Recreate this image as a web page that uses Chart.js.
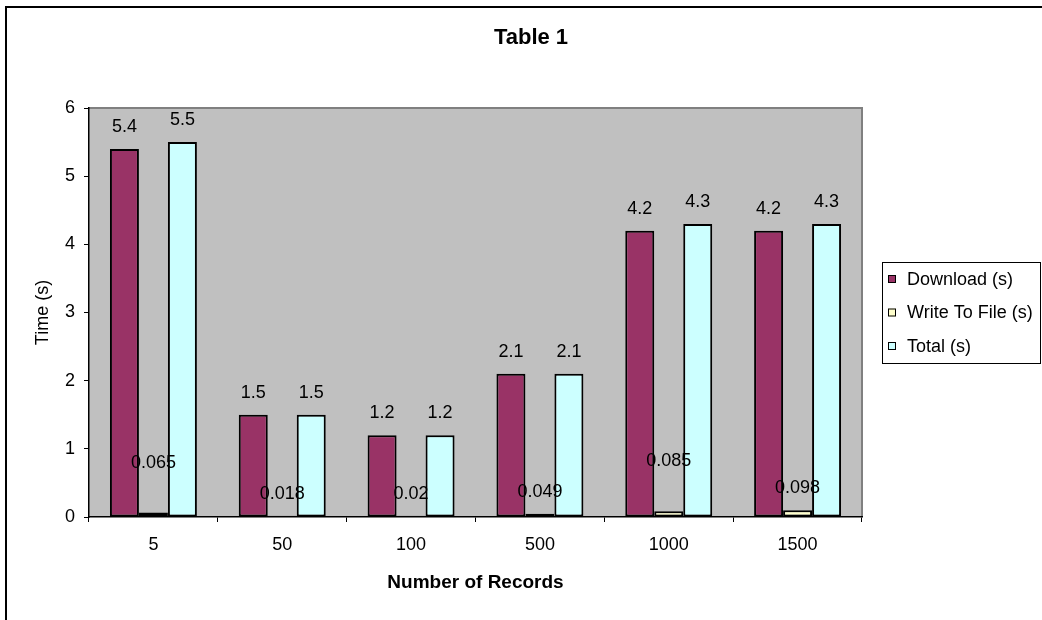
<!DOCTYPE html>
<html>
<head>
<meta charset="utf-8">
<title>Table 1</title>
<script src="https://cdn.jsdelivr.net/npm/chart.js@4/dist/chart.umd.min.js"></script>
<style>
  html, body { margin: 0; padding: 0; background: #ffffff; overflow: hidden; }
  #wrap { position: relative; width: 1042px; height: 620px; }
  canvas { display: block; }
</style>
</head>
<body>
<div id="wrap"><canvas id="chart" width="1042" height="620"></canvas></div>
<script>
// Number of records fetched in each run
const records = ['5', '50', '100', '500', '1000', '1500'];

// Timings in seconds
const downloadTimes = [5.4, 1.5, 1.2, 2.1, 4.2, 4.2];
const writeTimes    = [0.065, 0.018, 0.02, 0.049, 0.085, 0.098];
const totalTimes    = [5.5, 1.5, 1.2, 2.1, 4.3, 4.3];

const seriesNames = ['Download (s)', 'Write To File (s)', 'Total (s)'];
const yTicks = [0, 1, 2, 3, 4, 5, 6];

// Extra upward shift (px) for a few value labels of the small series
const writeLabelNudge = [28, 0, 0, 0, 28, 0];

const FONT = '"Liberation Sans", Arial, Helvetica, sans-serif';

// Plot background, outer frame, title, value labels and legend box
const decorPlugin = {
  id: 'decor',
  beforeDraw(chart) {
    const { ctx, chartArea: a } = chart;
    ctx.save();
    ctx.fillStyle = '#ffffff';
    ctx.fillRect(0, 0, chart.width, chart.height);
    // outer frame (top and left edges)
    ctx.fillStyle = '#000000';
    ctx.fillRect(5, 6, chart.width - 5, 2);
    ctx.fillRect(5, 6, 2, chart.height - 6);
    // plot area
    ctx.fillStyle = '#C0C0C0';
    ctx.fillRect(a.left, a.top, a.right - a.left, a.bottom - a.top);
    ctx.strokeStyle = '#808080';
    ctx.lineWidth = 2;
    ctx.beginPath();
    ctx.moveTo(a.left, a.top);
    ctx.lineTo(a.right, a.top);
    ctx.lineTo(a.right, a.bottom);
    ctx.stroke();
    ctx.restore();
  },
  afterDatasetsDraw(chart) {
    const { ctx } = chart;
    ctx.save();
    ctx.fillStyle = '#000000';
    ctx.font = '18px ' + FONT;
    ctx.textAlign = 'center';
    ctx.textBaseline = 'middle';
    chart.data.datasets.forEach((ds, i) => {
      const meta = chart.getDatasetMeta(i);
      meta.data.forEach((bar, j) => {
        const lift = 22 + (i === 1 ? writeLabelNudge[j] : 0);
        ctx.fillText(String(ds.data[j]), bar.x, bar.y - lift);
      });
    });
    ctx.restore();
  },
  afterDraw(chart) {
    const { ctx } = chart;
    ctx.save();
    // chart title
    ctx.fillStyle = '#000000';
    ctx.font = 'bold 22px ' + FONT;
    ctx.textAlign = 'center';
    ctx.textBaseline = 'middle';
    ctx.fillText('Table 1', 531, 38);

    // legend
    const box = { x: 882, y: 262, w: 158, h: 101 };
    ctx.fillStyle = '#ffffff';
    ctx.fillRect(box.x, box.y, box.w, box.h);
    ctx.strokeStyle = '#000000';
    ctx.lineWidth = 1;
    ctx.strokeRect(box.x + 0.5, box.y + 0.5, box.w, box.h);
    ctx.font = '18px ' + FONT;
    ctx.textAlign = 'left';
    ctx.textBaseline = 'middle';
    chart.data.datasets.forEach((ds, i) => {
      const cy = 279 + i * 33.5;
      ctx.fillStyle = ds.backgroundColor;
      ctx.fillRect(888, cy - 4, 8, 8);
      ctx.strokeStyle = '#000000';
      ctx.strokeRect(888.5, cy - 3.5, 7, 7);
      ctx.fillStyle = '#000000';
      ctx.fillText(ds.label, 907, cy + 1);
    });
    ctx.restore();
  }
};

const barStyle = { borderColor: '#000000', borderWidth: 2, borderSkipped: false };

new Chart(document.getElementById('chart'), {
  type: 'bar',
  data: {
    labels: records,
    datasets: [
      Object.assign({ label: seriesNames[0], data: downloadTimes, backgroundColor: '#993366' }, barStyle),
      Object.assign({ label: seriesNames[1], data: writeTimes, backgroundColor: '#FFFFCC' }, barStyle),
      Object.assign({ label: seriesNames[2], data: totalTimes, backgroundColor: '#CCFFFF' }, barStyle)
    ]
  },
  options: {
    responsive: false,
    animation: false,
    devicePixelRatio: 1,
    layout: { padding: { left: 0, right: 180, top: 108, bottom: 0 } },
    datasets: { bar: { categoryPercentage: 0.675, barPercentage: 1 } },
    plugins: {
      legend: { display: false },
      title: { display: false },
      tooltip: { enabled: false }
    },
    scales: {
      x: {
        afterFit(scale) { scale.height = 103; },
        grid: { display: true, drawOnChartArea: false, drawTicks: true, tickLength: 5, color: '#000000', offset: true },
        border: { display: true, color: '#000000', width: 1.5 },
        ticks: { color: '#000000', padding: 12, font: { family: FONT, size: 18 } },
        title: {
          display: true, text: 'Number of Records', color: '#000000',
          font: { family: FONT, size: 19, weight: 'bold' },
          padding: { top: 0, bottom: 26 }
        }
      },
      y: {
        min: 0, max: 6,
        afterFit(scale) { scale.width = 89; },
        afterBuildTicks(scale) { scale.ticks = yTicks.map(v => ({ value: v })); },
        grid: { display: true, drawOnChartArea: false, drawTicks: true, tickLength: 5, color: '#000000' },
        border: { display: true, color: '#000000', width: 1.5 },
        ticks: { color: '#000000', padding: 9, font: { family: FONT, size: 18 } },
        title: {
          display: true, text: 'Time (s)', color: '#000000',
          font: { family: FONT, size: 18 },
          padding: { top: 32, bottom: 0 }
        }
      }
    }
  },
  plugins: [decorPlugin]
});
</script>
</body>
</html>
